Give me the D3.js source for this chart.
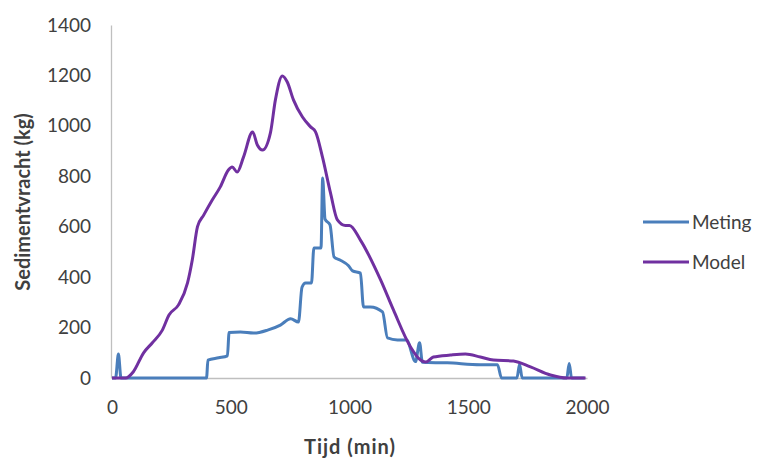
<!DOCTYPE html>
<html>
<head>
<meta charset="utf-8">
<script src="https://cdn.jsdelivr.net/npm/d3@7"></script>
<style>
  body { margin: 0; background: #fff; }
  text { font-family: Lato, "Open Sans", sans-serif; fill: #404040; }
</style>
</head>
<body>
<script>
// chart data
var seriesNames = ["Meting", "Model"];
var seriesColors = ["#4a7ebb", "#7030a0"];

var metingTime = [0, 15, 27, 38, 398, 404, 449, 486, 493, 541, 596, 655, 709, 752, 785, 800, 815, 840, 850, 870, 880, 887, 897, 918, 935, 960, 996, 1013, 1046, 1059, 1088, 1139, 1160, 1202, 1240, 1278, 1295, 1307, 1412, 1551, 1623, 1640, 1705, 1716, 1727, 1915, 1925, 1935, 1990];
var metingValue = [0, 0, 95, 0, 0, 71, 80, 88, 180, 182, 178, 190, 210, 235, 222, 360, 377, 377, 516, 516, 516, 793, 630, 607, 480, 468, 445, 425, 416, 282, 282, 262, 159, 151, 151, 65, 140, 62, 60, 53, 53, 0, 0, 55, 0, 0, 58, 0, 0];

var modelTime = [0, 57, 90, 133, 170, 212, 240, 280, 318, 338, 360, 386, 422, 456, 490, 506, 527, 554, 592, 612, 634, 667, 688, 717, 738, 764, 802, 836, 857, 886, 920, 949, 983, 1000, 1046, 1131, 1185, 1257, 1299, 1320, 1353, 1425, 1488, 1551, 1606, 1690, 1762, 1846, 1917, 1994];
var modelValue = [0, 0, 25, 100, 140, 190, 250, 290, 377, 468, 600, 646, 706, 758, 825, 837, 817, 877, 976, 924, 904, 972, 1103, 1198, 1174, 1103, 1035, 996, 976, 877, 734, 627, 605, 605, 547, 389, 270, 123, 71, 63, 83, 91, 95, 83, 71, 67, 44, 12, 0, 0];

var xTicks = [0, 500, 1000, 1500, 2000];
var yTicks = [0, 200, 400, 600, 800, 1000, 1200, 1400];

var svg_Width = 763;
var svg_Height = 458;

var svg = d3.select("body")
  .append("svg")
  .attr("width", svg_Width)
  .attr("height", svg_Height);

var xScale = d3.scaleLinear().domain([0, 2000]).range([112, 587]);
var yScale = d3.scaleLinear().domain([0, 1400]).range([378, 25]);

// y axis
var yAxis = svg.append("g")
  .attr("transform", "translate(111,0)")
  .call(d3.axisLeft(yScale).tickValues(yTicks).tickFormat(d3.format("d"))
    .tickSize(0).tickSizeOuter(0).tickPadding(20));
yAxis.select(".domain").attr("stroke", "#bfbfbf").attr("stroke-width", 1.3);
yAxis.selectAll("text").style("font-size", "19px").attr("fill", "#404040");

// x axis
var xAxis = svg.append("g")
  .attr("transform", "translate(0,378)")
  .call(d3.axisBottom(xScale).tickValues(xTicks).tickFormat(d3.format("d"))
    .tickSize(0).tickSizeOuter(0).tickPadding(23));
xAxis.select(".domain").attr("stroke", "#bfbfbf").attr("stroke-width", 1.3);
xAxis.selectAll("text").style("font-size", "19px").attr("fill", "#404040");

// axis titles
svg.append("text")
  .attr("transform", "translate(30,202) rotate(-90)")
  .attr("text-anchor", "middle")
  .style("font-size", "20px")
  .style("font-weight", "bold")
  .attr("fill", "#000")
  .text("Sedimentvracht (kg)");

svg.append("text")
  .attr("x", 350)
  .attr("y", 454)
  .attr("text-anchor", "middle")
  .style("font-size", "20px")
  .style("font-weight", "bold")
  .style("letter-spacing", "1px")
  .attr("fill", "#000")
  .text("Tijd (min)");

// lines
var line = d3.line()
  .x(d => xScale(d[0]))
  .y(d => yScale(d[1]))
  .curve(d3.curveMonotoneX);

var metingData = metingTime.map((t, i) => [t, metingValue[i]]);
var modelData = modelTime.map((t, i) => [t, modelValue[i]]);

[metingData, modelData].forEach(function (data, i) {
  svg.append("path")
    .datum(data)
    .attr("fill", "none")
    .attr("stroke", seriesColors[i])
    .attr("stroke-width", 3)
    .attr("stroke-linejoin", "round")
    .attr("d", line);
});

// legend
var legend = svg.append("g");
seriesNames.forEach(function (name, i) {
  var ly = 222 + i * 40;
  legend.append("line")
    .attr("x1", 643).attr("x2", 689)
    .attr("y1", ly).attr("y2", ly)
    .attr("stroke", seriesColors[i])
    .attr("stroke-width", 3);
  legend.append("text")
    .attr("x", 692)
    .attr("y", ly + 7)
    .style("font-size", "19px")
    .attr("fill", "#404040")
    .text(name);
});
</script>
</body>
</html>
